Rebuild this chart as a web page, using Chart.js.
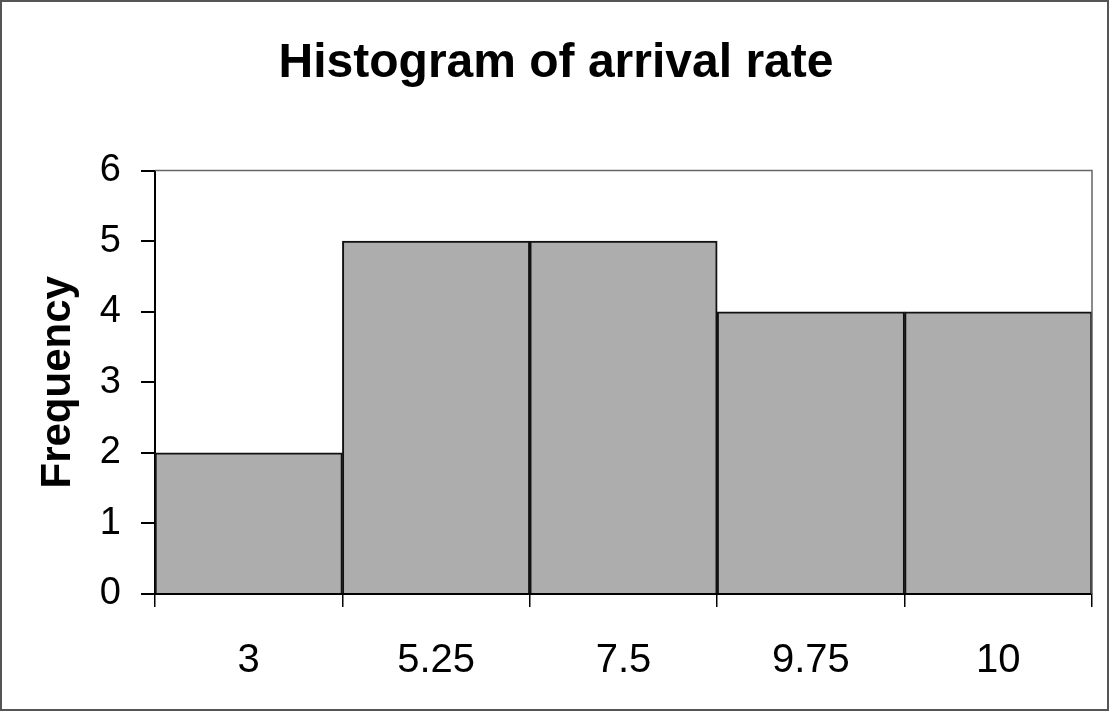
<!DOCTYPE html>
<html>
<head>
<meta charset="utf-8">
<script src="https://cdn.jsdelivr.net/npm/chart.js@4/dist/chart.umd.min.js"></script>
<style>
  html, body { margin: 0; padding: 0; background: #fff; }
  canvas { display: block; }
</style>
</head>
<body>
<canvas id="c" width="1109" height="711"></canvas>
<script>
const categories = ["3", "5.25", "7.5", "9.75", "10"];
const frequency = [2, 5, 5, 4, 4];
const yTicks = [0, 1, 2, 3, 4, 5, 6];

const FONT = "'Liberation Sans', Arial, sans-serif";

const framePlugin = {
  id: 'frame',
  beforeDraw(chart) {
    const ctx = chart.ctx;
    ctx.save();
    ctx.fillStyle = '#fff';
    ctx.fillRect(0, 0, chart.width, chart.height);
    ctx.restore();
  },
  afterDraw(chart) {
    const ctx = chart.ctx;
    const a = chart.chartArea;
    ctx.save();
    ctx.strokeStyle = '#555';
    ctx.lineWidth = 2;
    ctx.strokeRect(1, 1, chart.width - 2, chart.height - 2);
    ctx.strokeStyle = '#666';
    ctx.lineWidth = 1.5;
    ctx.beginPath();
    ctx.moveTo(a.left, a.top);
    ctx.lineTo(a.right, a.top);
    ctx.lineTo(a.right, a.bottom);
    ctx.stroke();
    ctx.restore();
  }
};

new Chart(document.getElementById('c'), {
  type: 'bar',
  data: {
    labels: categories,
    datasets: [{
      label: 'Frequency',
      data: frequency,
      backgroundColor: '#adadad',
      borderColor: '#111',
      borderWidth: 2,
      barPercentage: 1,
      categoryPercentage: 1
    }]
  },
  options: {
    responsive: false,
    animation: false,
    devicePixelRatio: 1,
    layout: { padding: { left: 10, right: 7, top: 0, bottom: 27 } },
    plugins: {
      legend: { display: false },
      tooltip: { enabled: false },
      title: {
        display: true,
        text: 'Histogram of arrival rate',
        color: '#000',
        font: { family: FONT, size: 48, weight: 'bold' },
        padding: { top: 35, bottom: 78 }
      }
    },
    scales: {
      x: {
        afterFit(scale) { scale.height = 90; },
        grid: {
          display: true,
          offset: true,
          drawOnChartArea: false,
          drawTicks: true,
          tickLength: 13,
          color: '#000',
          lineWidth: 1.5
        },
        border: { display: true, color: '#000', width: 2 },
        ticks: {
          color: '#000',
          padding: 30,
          font: { family: FONT, size: 40 },
          maxRotation: 0
        }
      },
      y: {
        min: 0,
        max: 6,
        afterFit(scale) { scale.width = 145; },
        afterBuildTicks(scale) { scale.ticks = yTicks.map(v => ({ value: v })); },
        grid: {
          display: true,
          drawOnChartArea: false,
          drawTicks: true,
          tickLength: 14,
          color: '#000',
          lineWidth: 2
        },
        border: { display: true, color: '#000', width: 2 },
        ticks: {
          color: '#000',
          padding: 20,
          font: { family: FONT, size: 38 }
        },
        title: {
          display: true,
          text: 'Frequency',
          color: '#000',
          font: { family: FONT, size: 42, weight: 'bold' },
          padding: { top: 23, bottom: 0 }
        }
      },
      yRight: {
        position: 'right',
        display: true,
        afterFit(scale) { scale.width = 10; },
        grid: { display: false },
        border: { display: false },
        ticks: { display: false }
      }
    }
  },
  plugins: [framePlugin]
});
</script>
</body>
</html>
